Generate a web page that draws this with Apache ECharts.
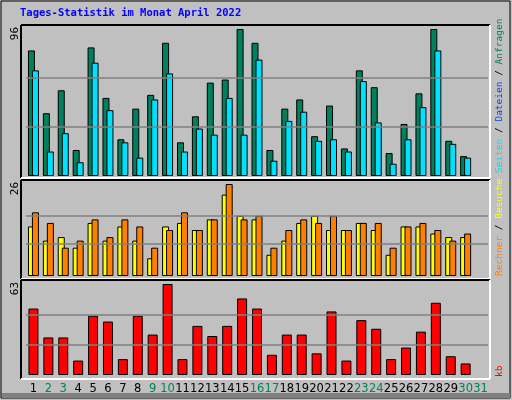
<!DOCTYPE html>
<html><head><meta charset="utf-8">
<script src="https://cdn.jsdelivr.net/npm/echarts@6/dist/echarts.min.js"></script>
<style>html,body{margin:0;padding:0;background:#c0c0c0}#c{width:512px;height:400px}</style>
</head><body><div id="c"></div>
<script>
const days = ['1','2','3','4','5','6','7','8','9','10','11','12','13','14','15','16','17','18','19','20','21','22','23','24','25','26','27','28','29','30','31'];
const weekend = ['2','3','9','10','16','17','23','24','30','31'];
const anfragen = [82,41,56,17,84,51,24,44,53,87,22,39,61,63,96,87,17,44,50,26,46,18,69,58,15,34,54,96,23,13];
const dateien  = [69,16,28,9,74,43,22,12,50,67,16,31,27,51,27,76,10,36,42,23,24,16,62,35,8,24,45,82,21,12];
const besuche  = [14,10,11,8,15,10,14,10,5,14,15,13,16,23,17,16,6,10,15,17,13,13,15,13,6,14,14,12,11,11];
const rechner  = [18,15,8,10,16,11,16,14,8,13,18,13,16,26,16,17,8,13,16,15,17,13,15,15,8,14,15,13,10,12];
const kb       = [46,26,26,10,41,37,11,41,28,63,11,34,27,34,53,46,14,28,28,15,44,10,38,32,11,19,30,50,13,8];
const maxTicks = ['96','26','63'];
const maxV = [96,26,63];

const grids = [
  {left:26, width:462, top:29, height:147},
  {left:26, width:462, top:184, height:92},
  {left:26, width:462, top:284, height:91}
];
const font = '"DejaVu Sans Mono", monospace';
function xa(i){return {type:'category',gridIndex:i,data:days,axisLine:{show:false},axisTick:{show:false},
  axisLabel:{show:i===2,interval:0,margin:8,fontFamily:'"DejaVu Sans", sans-serif',fontSize:11.5,
    color:(v)=>weekend.includes(v)?'#00805c':'#000'}}}
function ya(i){return {type:'value',gridIndex:i,min:0,max:maxV[i],show:false}}
function ml(i){return {silent:true,symbol:'none',label:{show:false},lineStyle:{color:'#808080',type:'solid',width:1.5},
  data:[{yAxis:Math.round(maxV[i]/3)},{yAxis:Math.round(maxV[i]*2/3)}]}}
const bs = {borderColor:'#000',borderWidth:1};
const series = [
  {type:'bar',xAxisIndex:0,yAxisIndex:0,data:anfragen,barWidth:7,barGap:'-43%',itemStyle:{color:'#00805c',...bs},markLine:ml(0),z:2},
  {type:'bar',xAxisIndex:0,yAxisIndex:0,data:dateien,barWidth:7,barGap:'-43%',itemStyle:{color:'#00e0ff',...bs},z:3},
  {type:'bar',xAxisIndex:1,yAxisIndex:1,data:besuche,barWidth:7,barGap:'-43%',itemStyle:{color:'#ffff00',...bs},markLine:ml(1),z:2},
  {type:'bar',xAxisIndex:1,yAxisIndex:1,data:rechner,barWidth:7,barGap:'-43%',itemStyle:{color:'#ff8000',...bs},z:3},
  {type:'bar',xAxisIndex:2,yAxisIndex:2,data:kb,barWidth:10,itemStyle:{color:'#ff0000',...bs},markLine:ml(2)}
];
function frame(x,y,w,h){
  return [
    {type:'line',shape:{x1:x,y1:y,x2:x+w,y2:y},style:{stroke:'#000',lineWidth:2},z:0},
    {type:'line',shape:{x1:x,y1:y,x2:x,y2:y+h},style:{stroke:'#000',lineWidth:2},z:0},
    {type:'line',shape:{x1:x,y1:y+h,x2:x+w,y2:y+h},style:{stroke:'#fff',lineWidth:2},z:0},
    {type:'line',shape:{x1:x+w,y1:y,x2:x+w,y2:y+h},style:{stroke:'#fff',lineWidth:2},z:0}
  ];
}
const f9 = '9.5px '+font;
const graphics = [
  {type:'rect',shape:{x:1,y:1,width:509,height:397},style:{fill:'none',stroke:'#000',lineWidth:1}},
  {type:'rect',shape:{x:2,y:393,width:508,height:5},style:{fill:'#808080'}},
  ...frame(21,25,469,153), ...frame(21,180,469,99), ...frame(21,280,469,99),
  {type:'text',left:20,top:8,style:{text:'Tages-Statistik im Monat April 2022',fill:'#0000ff',font:'bold 10.5px '+font}},
  {type:'text',x:10,y:27,rotation:Math.PI/2,style:{text:maxTicks[0],fill:'#000',font:'11px '+font,align:'right',verticalAlign:'top'}},
  {type:'text',x:10,y:182,rotation:Math.PI/2,style:{text:maxTicks[1],fill:'#000',font:'11px '+font,align:'right',verticalAlign:'top'}},
  {type:'text',x:10,y:282,rotation:Math.PI/2,style:{text:maxTicks[2],fill:'#000',font:'11px '+font,align:'right',verticalAlign:'top'}},
  {type:'text',x:495,y:276,rotation:Math.PI/2,style:{
    text:'{o|Rechner} {g|/} {y|Besuche} {c|Seiten} {g|/} {b|Dateien} {g|/} {n|Anfragen}',
    font:f9,verticalAlign:'top',
    rich:{o:{fill:'#ff8000',font:f9},g:{fill:'#000',font:f9},y:{fill:'#ffff00',font:f9},
      c:{fill:'#00e0ff',font:f9},b:{fill:'#0040ff',font:f9},n:{fill:'#00805c',font:f9}}}},
  {type:'text',x:495,y:377,rotation:Math.PI/2,style:{text:'kb',fill:'#ff0000',font:f9,verticalAlign:'top'}}
];
const chart = echarts.init(document.getElementById('c'));
chart.setOption({
  animation:false,backgroundColor:'#c0c0c0',
  grid:grids,xAxis:[xa(0),xa(1),xa(2)],yAxis:[ya(0),ya(1),ya(2)],
  series:series,graphic:graphics
});
</script></body></html>
